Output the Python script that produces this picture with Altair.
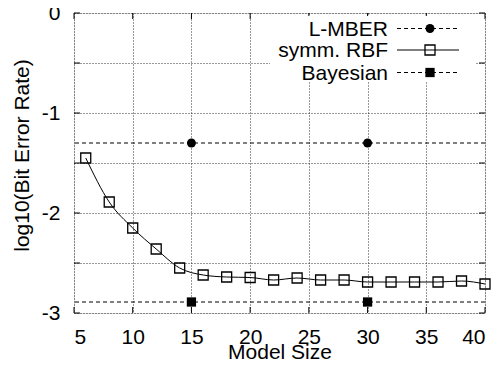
import altair as alt
import pandas as pd

# Data
rbf_x = [6, 8, 10, 12, 14, 16, 18, 20, 22, 24, 26, 28, 30, 32, 34, 36, 38, 40]
rbf_y = [-1.45, -1.89, -2.15, -2.36, -2.55, -2.62, -2.64, -2.645, -2.67, -2.65,
         -2.67, -2.67, -2.69, -2.69, -2.69, -2.69, -2.68, -2.71]
lmber_x = [15, 30]
lmber_y = [-1.30, -1.30]
bayes_x = [15, 30]
bayes_y = [-2.89, -2.89]
legend_labels = ["L-MBER", "symm. RBF", "Bayesian"]
x_ticks = [5, 10, 15, 20, 25, 30, 35, 40]
y_ticks = [-3, -2.5, -2, -1.5, -1, -0.5, 0]

rbf = pd.DataFrame({"x": rbf_x, "y": rbf_y})
lmber = pd.DataFrame({"x": lmber_x, "y": lmber_y})
bayes = pd.DataFrame({"x": bayes_x, "y": bayes_y})
xt = pd.DataFrame({"x": x_ticks})
yt = pd.DataFrame({"y": y_ticks})

FONT = "Liberation Sans"
FS = 21
W, H = 411, 300
TL = 6

xs = alt.Scale(domain=[5, 40], nice=False, zero=False)
ys = alt.Scale(domain=[-3, 0], nice=False, zero=False)

xenc = alt.X("x:Q", scale=xs, axis=alt.Axis(
    values=x_ticks, format="d", title="Model Size", grid=True,
    gridDash=[1, 2], gridColor="black", gridOpacity=0.8, gridWidth=1,
    domain=False, ticks=False, labelPadding=13, labelFont=FONT, labelFontSize=FS,
    labelColor="black", titleFont=FONT, titleFontSize=FS, titleFontWeight="normal",
    titleColor="black", titleY=45, titleBaseline="alphabetic"))
yenc = alt.Y("y:Q", scale=ys, axis=alt.Axis(
    values=y_ticks, labelExpr="datum.value % 1 == 0 ? '' + datum.value : ''",
    title="log10(Bit Error Rate)", grid=True, gridDash=[1, 2], gridColor="black",
    gridOpacity=0.8, gridWidth=1, domain=False, ticks=False, labelPadding=14,
    labelFont=FONT, labelFontSize=FS, labelColor="black", titleFont=FONT,
    titleFontSize=FS, titleFontWeight="normal", titleColor="black",
    titleAngle=-90, titleX=-46, titleY=142, titleAlign="center",
    titleBaseline="alphabetic"))

base_rbf = alt.Chart(rbf)
rbf_line = base_rbf.mark_line(color="black", strokeWidth=1, interpolate="monotone").encode(x=xenc, y=yenc)
rbf_pts = base_rbf.mark_point(shape="square", filled=False, color="black", size=100,
                              strokeWidth=1.3, opacity=1).encode(x="x:Q", y="y:Q")

lm_rule = alt.Chart(lmber.head(1)).mark_rule(color="black", strokeWidth=1, strokeDash=[4, 3]).encode(y="y:Q")
lm_pts = alt.Chart(lmber).mark_point(shape="circle", filled=True, color="black", size=80, opacity=1).encode(x="x:Q", y="y:Q")
by_rule = alt.Chart(bayes.head(1)).mark_rule(color="black", strokeWidth=1, strokeDash=[4, 3]).encode(y="y:Q")
by_pts = alt.Chart(bayes).mark_point(shape="square", filled=True, color="black", size=86, opacity=1).encode(x="x:Q", y="y:Q")

# Inward ticks on all four sides (gnuplot style)
tick_b = alt.Chart(xt).mark_rule(color="black", strokeWidth=1).encode(x="x:Q", y=alt.value(H), y2=alt.value(H - TL))
tick_t = alt.Chart(xt).mark_rule(color="black", strokeWidth=1).encode(x="x:Q", y=alt.value(0), y2=alt.value(TL))
tick_l = alt.Chart(yt).mark_rule(color="black", strokeWidth=1).encode(y="y:Q", x=alt.value(0), x2=alt.value(TL))
tick_r = alt.Chart(yt).mark_rule(color="black", strokeWidth=1).encode(y="y:Q", x=alt.value(W), x2=alt.value(W - TL))

# Legend (drawn manually, gnuplot style: label left of sample)
leg_bg = alt.Chart(pd.DataFrame({"a": [0]})).mark_rect(color="white").encode(
    x=alt.value(196), x2=alt.value(401), y=alt.value(3), y2=alt.value(69))
rows = [15.5, 37, 59.5]
leg_layers = [leg_bg]
dashes = [[4, 3], [1, 0], [4, 3]]
shapes = [("circle", True, 80), ("square", False, 100), ("square", True, 86)]
for i, lab in enumerate(legend_labels):
    d = pd.DataFrame({"t": [lab]})
    leg_layers.append(alt.Chart(d).mark_text(align="right", baseline="middle", font=FONT,
                                             fontSize=FS, color="black").encode(
        text="t:N", x=alt.value(314), y=alt.value(rows[i] + 1)))
    leg_layers.append(alt.Chart(d).mark_rule(color="black", strokeWidth=1, strokeDash=dashes[i]).encode(
        x=alt.value(323), x2=alt.value(385), y=alt.value(rows[i])))
    shp, fil, sz = shapes[i]
    leg_layers.append(alt.Chart(d).mark_point(shape=shp, filled=fil, color="black", size=sz,
                                              strokeWidth=1.3, opacity=1).encode(
        x=alt.value(356), y=alt.value(rows[i])))

chart = alt.layer(rbf_line, lm_rule, by_rule, tick_b, tick_t, tick_l, tick_r,
                  rbf_pts, lm_pts, by_pts, *leg_layers).properties(
    width=W, height=H,
    autosize=alt.AutoSizeParams(type="none"),
    padding={"left": 66, "top": 5, "right": 7, "bottom": 58},
).configure_view(stroke="black", strokeWidth=1.5).configure(background="white")

chart.save("out.html", embed_options={"renderer": "svg", "actions": False})
